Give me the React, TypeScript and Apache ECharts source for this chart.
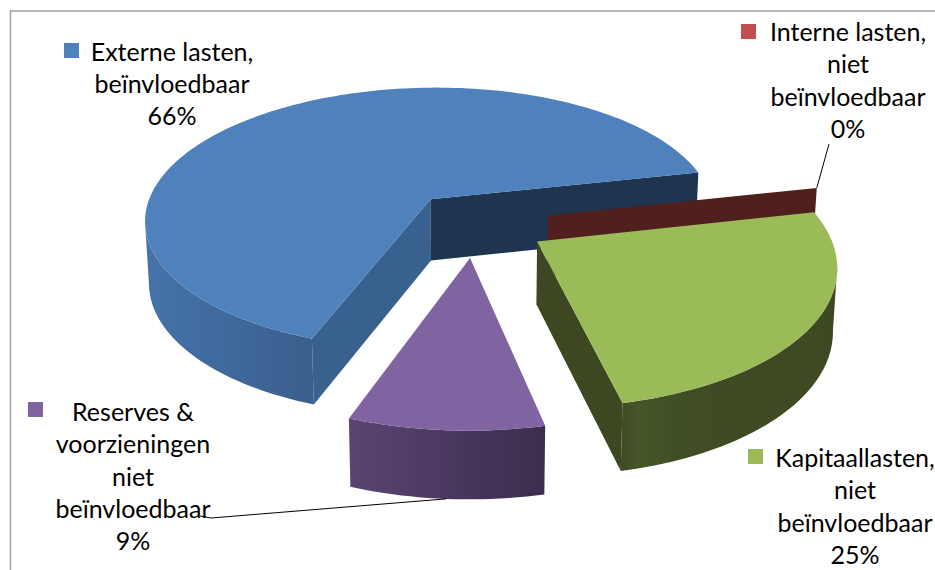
import React, { useEffect, useRef } from "react";
import * as echarts from "echarts";

// Share of the budget per cost group, in percent.
const categories = [
  "Externe lasten,\nbeïnvloedbaar",
  "Interne lasten,\nniet\nbeïnvloedbaar",
  "Kapitaallasten,\nniet\nbeïnvloedbaar",
  "Reserves &\nvoorzieningen\nniet\nbeïnvloedbaar",
];
const shares = [66, 0, 25, 9];

const topColors = ["#4f81bd", "#c0504d", "#9bbb59", "#8064a2"];
const cutEdgeColors = ["#1e344f", "#4f201e", "#3d4721", "#3c2d4d"];
const startEdgeColors = ["#39618f", "#4f201e", "#3d4721", "#3c2d4d"];
// Rim shading left to right across the visible part of each rim.
const wallStops = [
  [[0, "#4572aa"], [0.5, "#40699c"], [1, "#395e8c"]],
  [[0, "#4f201e"], [1, "#4f201e"]],
  [[0, "#3e4a23"], [0.08, "#465629"], [0.3, "#3f4c24"], [1, "#3e4923"]],
  [[0, "#5a4570"], [0.5, "#4a3860"], [1, "#3c2d4d"]],
];

// Distance each slice is pulled out of the pie, as a fraction of the radius.
const explodeBy = [0.24, 0.26, 0.25, 0.25];

// Callout boxes: text centre, swatch corner, in page pixels.
const calloutLayout = [
  { cx: 172, cy: 83, sx: 64, sy: 43 },
  { cx: 848, cy: 79.5, sx: 741, sy: 24 },
  { cx: 855, cy: 505.5, sx: 748, sy: 449 },
  { cx: 133, cy: 475.5, sx: 28, sy: 402 },
];

// Perspective camera over the unit disc; y grows towards the viewer, h is depth below the top face.
const cam = { x0: 475, y0: 223, a: 289, b: 135, p: 0.15, q: 0.012, H: 62 };
const firstAngle = -160;

const project = (x: number, y: number, h: number): number[] => {
  const w = 1 - cam.p * y;
  const d = 1 + cam.q * h;
  return [cam.x0 + (cam.a * x) / (w * d), cam.y0 + (cam.b * y) / w + (cam.H * h) / Math.sqrt(w)];
};

const rad = (deg: number) => (deg * Math.PI) / 180;

const sliceAngles = (() => {
  const total = shares.reduce((s, v) => s + v, 0);
  let at = firstAngle;
  return shares.map((v) => {
    const from = at;
    at += (v / total) * 360;
    return [from, at];
  });
})();

const arcPoints = (ox: number, oy: number, from: number, to: number, h: number) => {
  const steps = Math.max(2, Math.ceil((to - from) / 1.5));
  const pts: number[][] = [];
  for (let i = 0; i <= steps; i++) {
    const t = rad(from + ((to - from) * i) / steps);
    pts.push(project(ox + Math.sin(t), oy - Math.cos(t), h));
  }
  return pts;
};

const renderSlice = (params: any) => {
  const i = params.dataIndex;
  const [from, to] = sliceAngles[i];
  const mid = rad((from + to) / 2);
  const ox = explodeBy[i] * Math.sin(mid);
  const oy = -explodeBy[i] * Math.cos(mid);
  const topArc = arcPoints(ox, oy, from, to, 0);
  const botArc = arcPoints(ox, oy, from, to, 1);
  const apexTop = project(ox, oy, 0);
  const apexBot = project(ox, oy, 1);
  const wallFill = new echarts.graphic.LinearGradient(
    0,
    0,
    1,
    0,
    wallStops[i].map(([offset, color]) => ({ offset, color })) as any
  );
  const poly = (points: number[][], fill: any) => ({
    type: "polygon",
    shape: { points },
    style: { fill },
  });
  const children: any[] = [];
  const first = topArc[0];
  const last = topArc[topArc.length - 1];

  // The rim faces the viewer where the clockwise arc runs leftwards on screen.
  const rimTop: number[][] = [];
  const rimBot: number[][] = [];
  topArc.forEach((p, k) => {
    const movingLeft =
      (k + 1 < topArc.length && topArc[k + 1][0] < p[0]) || (k > 0 && p[0] < topArc[k - 1][0]);
    if (movingLeft && to > from) {
      rimTop.push(p);
      rimBot.push(botArc[k]);
    }
  });
  if (rimTop.length > 1) {
    children.push(poly([...rimTop, ...rimBot.slice().reverse()], wallFill));
  }
  // A cut face shows only when it turns towards the viewer.
  if (first[0] < apexTop[0]) {
    children.push(poly([apexTop, first, botArc[0], apexBot], startEdgeColors[i]));
  }
  if (last[0] > apexTop[0]) {
    children.push(poly([apexTop, last, botArc[botArc.length - 1], apexBot], cutEdgeColors[i]));
  }
  if (to > from) {
    children.push(poly([apexTop, ...topArc], topColors[i]));
  }

  // Leader lines for the two callouts that sit away from their slice.
  const line = (points: number[][]) => ({
    type: "polyline",
    shape: { points },
    style: { stroke: "#000", lineWidth: 1, fill: "none" },
  });
  if (i === 1) {
    children.push(line([last, [829, 144]]));
  }
  if (i === 3) {
    const anchor = botArc[Math.floor(botArc.length * 0.5)];
    children.push(line([anchor, [211, 518], [200, 516]]));
  }
  return { type: "group", children };
};

export default function App() {
  const ref = useRef<HTMLDivElement>(null);
  useEffect(() => {
    document.body.style.margin = "0";
    document.body.style.background = "#fff";
    const chart = echarts.init(ref.current!, null, { renderer: "svg" });
    const texts = calloutLayout.flatMap((c, i) => [
      {
        type: "rect",
        shape: { x: c.sx, y: c.sy, width: 15, height: 15 },
        style: { fill: topColors[i] },
      },
      {
        type: "text",
        style: {
          text: `${categories[i]}\n${Math.round(shares[i])}%`,
          x: c.cx,
          y: c.cy,
          align: "center",
          verticalAlign: "middle",
          lineHeight: 32.3,
          font: '25px Lato, "Open Sans", sans-serif',
          fill: "#000",
        },
      },
    ]);
    chart.setOption({
      animation: false,
      graphic: [
        {
          type: "polyline",
          shape: { points: [[10.5, 570], [10.5, 11], [935, 11]] },
          style: { stroke: "#a3a3a3", lineWidth: 1.5, fill: "none" },
        },
        ...texts,
      ],
      series: [
        {
          type: "custom",
          coordinateSystem: "none",
          renderItem: renderSlice,
          data: shares.map((v) => [v]),
          silent: true,
        },
      ],
    });
    return () => chart.dispose();
  }, []);
  return <div ref={ref} style={{ width: 935, height: 570, overflow: "hidden" }} />;
}
